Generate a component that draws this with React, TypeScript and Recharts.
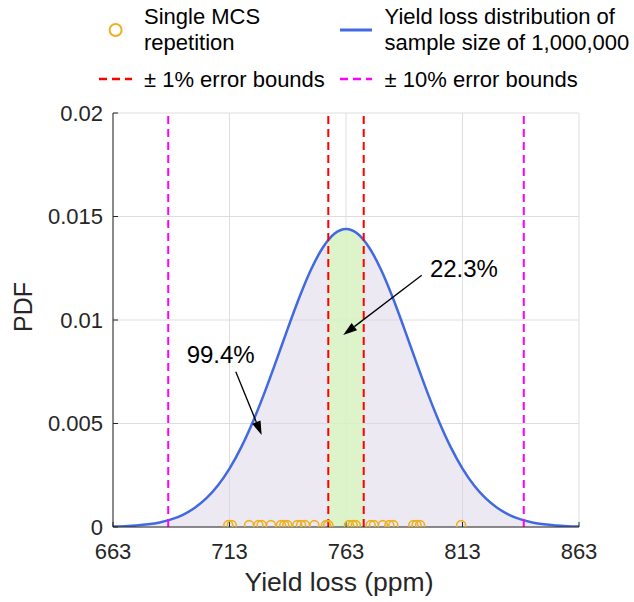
import React from 'react';
import {
  ComposedChart,
  Area,
  Line,
  Scatter,
  XAxis,
  YAxis,
  CartesianGrid,
  ReferenceLine,
  ReferenceDot,
} from 'recharts';

// Yield loss grid (ppm) and the PDF of the 1,000,000-sample distribution
const yieldLoss = [
  663, 668, 673, 678, 683, 688, 693, 698, 703, 708, 713, 718, 723, 728, 733,
  738, 743, 748, 753, 755.4, 758, 763, 768, 770.6, 773, 778, 783, 788, 793,
  798, 803, 808, 813, 818, 823, 828, 833, 838, 843, 848, 853, 858, 863,
];
const pdfValues = [
  0.0000213, 0.0000402, 0.0000735, 0.00013, 0.000222, 0.000369, 0.000591,
  0.000918, 0.001379, 0.002006, 0.002824, 0.003849, 0.005077, 0.006482,
  0.008011, 0.009583, 0.011096, 0.012436, 0.013492, 0.013868, 0.014167,
  0.0144, 0.014167, 0.013868, 0.013492, 0.012436, 0.011096, 0.009583,
  0.008011, 0.006482, 0.005077, 0.003849, 0.002824, 0.002006, 0.001379,
  0.000918, 0.000591, 0.000369, 0.000222, 0.00013, 0.0000735, 0.0000402,
  0.0000213,
];

// Yield loss of each single Monte Carlo repetition (ppm)
const mcsRepetitions = [
  712.5, 714.0, 721.4, 725.4, 726.8, 730.8, 735.1, 736.5, 737.8, 742.1, 743.7,
  745.4, 749.4, 754.4, 755.4, 764.3, 765.9, 767.2, 773.6, 775.0, 778.8, 781.6,
  783.3, 791.9, 793.3, 794.8, 812.4,
];
const mcsMarkerLevel = 0.00009;

const onePctBounds = [755.4, 770.6];
const tenPctBounds = [686.7, 839.3];

const xTicks = [663, 713, 763, 813, 863];
const yTicks = [0, 0.005, 0.01, 0.015, 0.02];

// Annotation text anchors and arrow segments (yield loss, PDF)
const bandShareLabel = '22.3%';
const bandShareText = [799.0, 0.01208];
const bandShareArrow = [795.5, 0.01216, 761.8, 0.00927];
const tenPctShareLabel = '99.4%';
const tenPctShareText = [694.6, 0.0079];
const tenPctShareArrow = [715.7, 0.0075, 726.8, 0.00444];

const FONT = '"Liberation Sans", Arial, Helvetica, sans-serif';
const AXIS_COLOR = '#262626';
const BLUE = '#4169E1';
const ORANGE = '#EDB120';
const RED = '#FF0000';
const MAGENTA = '#FF00FF';

const curveData = yieldLoss.map((x, i) => ({
  x,
  pdf: pdfValues[i],
  band: x >= onePctBounds[0] && x <= onePctBounds[1] ? pdfValues[i] : null,
}));
const mcsData = mcsRepetitions.map((x) => ({ x, y: mcsMarkerLevel }));

const ArrowShape = (props: any) => {
  const { x1, y1, x2, y2 } = props;
  const ang = Math.atan2(y2 - y1, x2 - x1);
  const len = 14;
  const half = 4.5;
  const bx = x2 - len * Math.cos(ang);
  const by = y2 - len * Math.sin(ang);
  const px = -Math.sin(ang) * half;
  const py = Math.cos(ang) * half;
  return (
    <g>
      <line x1={x1} y1={y1} x2={bx} y2={by} stroke="#000" strokeWidth={1.3} />
      <polygon
        points={`${x2},${y2} ${bx + px},${by + py} ${bx - px},${by - py}`}
        fill="#000"
      />
    </g>
  );
};

const makeTextShape = (label: string) => (props: any) => (
  <text
    x={props.cx}
    y={props.cy}
    fontFamily={FONT}
    fontSize={24}
    fill="#000"
    textAnchor="start"
  >
    {label}
  </text>
);

const McsMarker = (props: any) => (
  <circle
    cx={props.cx}
    cy={props.cy}
    r={4.5}
    fill="none"
    stroke={ORANGE}
    strokeWidth={1.6}
  />
);

const Legend = () => (
  <svg
    width={634}
    height={100}
    style={{ position: 'absolute', left: 0, top: 0 }}
    fontFamily={FONT}
    fontSize={22}
  >
    <circle cx={115.6} cy={30} r={6} fill="none" stroke={ORANGE} strokeWidth={2} />
    <text x={144} y={24} fill="#000">Single MCS</text>
    <text x={144} y={50} fill="#000">repetition</text>

    <line x1={340} y1={30} x2={372} y2={30} stroke={BLUE} strokeWidth={3} />
    <text x={384.6} y={24} fill="#000">Yield loss distribution of</text>
    <text x={384.6} y={50} fill="#000">sample size of 1,000,000</text>

    <line x1={99} y1={79} x2={132} y2={79} stroke={RED} strokeWidth={2.5} strokeDasharray="8 5" />
    <text x={144} y={87} fill="#000">± 1% error bounds</text>

    <line x1={340} y1={79} x2={372} y2={79} stroke={MAGENTA} strokeWidth={2.5} strokeDasharray="8 5" />
    <text x={384.6} y={87} fill="#000">± 10% error bounds</text>
  </svg>
);

export default function App() {
  const tickStyle = { fontFamily: FONT, fontSize: 22, fill: AXIS_COLOR };
  return (
    <div
      style={{
        position: 'absolute',
        left: 0,
        top: 0,
        width: 634,
        height: 602,
        background: '#fff',
      }}
    >
      <ComposedChart
        width={634}
        height={602}
        data={curveData}
        margin={{ top: 113, right: 55, bottom: 0, left: 0 }}
      >
        <CartesianGrid stroke="#dedede" strokeWidth={1} />
        <XAxis
          xAxisId={0}
          dataKey="x"
          type="number"
          domain={[663, 863]}
          ticks={xTicks}
          allowDataOverflow
          height={75}
          tickSize={-5}
          tickMargin={21}
          stroke={AXIS_COLOR}
          tick={tickStyle}
          label={{
            content: (p: any) => {
              const vb = p.viewBox;
              return (
                <text
                  x={vb.x + vb.width / 2 - 7}
                  y={vb.y + 64}
                  textAnchor="middle"
                  fontFamily={FONT}
                  fontSize={26.5}
                  fill={AXIS_COLOR}
                >
                  Yield loss (ppm)
                </text>
              );
            },
          }}
        />
        <XAxis
          xAxisId="top"
          orientation="top"
          dataKey="x"
          type="number"
          domain={[663, 863]}
          ticks={xTicks}
          allowDataOverflow
          height={0}
          tickSize={-5}
          tickFormatter={() => ''}
          stroke={AXIS_COLOR}
        />
        <YAxis
          yAxisId={0}
          type="number"
          domain={[0, 0.02]}
          ticks={yTicks}
          allowDataOverflow
          width={113}
          tickSize={-5}
          tickMargin={15}
          stroke={AXIS_COLOR}
          tick={tickStyle}
          tickFormatter={(v: number) => String(v)}
          label={{
            content: (p: any) => {
              const vb = p.viewBox;
              const cx = vb.x + 23;
              const cy = vb.y + vb.height / 2 - 13;
              return (
                <text
                  x={cx}
                  y={cy}
                  transform={`rotate(-90 ${cx} ${cy})`}
                  textAnchor="middle"
                  dominantBaseline="central"
                  fontFamily={FONT}
                  fontSize={25}
                  fill={AXIS_COLOR}
                >
                  PDF
                </text>
              );
            },
          }}
        />
        <YAxis
          yAxisId="right"
          orientation="right"
          type="number"
          domain={[0, 0.02]}
          ticks={yTicks}
          allowDataOverflow
          width={0}
          tickSize={-5}
          tickFormatter={() => ''}
          stroke={AXIS_COLOR}
        />

        <Area
          type="monotone"
          dataKey="pdf"
          stroke="none"
          fill="#dcd4e6"
          fillOpacity={0.5}
          isAnimationActive={false}
        />
        <Area
          type="monotone"
          dataKey="band"
          stroke="none"
          fill="#d4fbb6"
          fillOpacity={0.65}
          connectNulls={false}
          isAnimationActive={false}
        />
        <Line
          type="monotone"
          dataKey="pdf"
          stroke={BLUE}
          strokeWidth={2.5}
          dot={false}
          isAnimationActive={false}
        />
        <Scatter
          data={mcsData}
          dataKey="y"
          shape={McsMarker}
          isAnimationActive={false}
        />

        {tenPctBounds.map((b) => (
          <ReferenceLine
            key={`ten-${b}`}
            segment={[
              { x: b, y: 0 },
              { x: b, y: 0.02 },
            ]}
            stroke={MAGENTA}
            strokeWidth={2}
            strokeDasharray="8 5"
          />
        ))}
        {onePctBounds.map((b) => (
          <ReferenceLine
            key={`one-${b}`}
            segment={[
              { x: b, y: 0 },
              { x: b, y: 0.02 },
            ]}
            stroke={RED}
            strokeWidth={2}
            strokeDasharray="8 5"
          />
        ))}

        <ReferenceLine
          segment={[
            { x: bandShareArrow[0], y: bandShareArrow[1] },
            { x: bandShareArrow[2], y: bandShareArrow[3] },
          ]}
          shape={ArrowShape}
        />
        <ReferenceLine
          segment={[
            { x: tenPctShareArrow[0], y: tenPctShareArrow[1] },
            { x: tenPctShareArrow[2], y: tenPctShareArrow[3] },
          ]}
          shape={ArrowShape}
        />
        <ReferenceDot
          x={bandShareText[0]}
          y={bandShareText[1]}
          r={0}
          shape={makeTextShape(bandShareLabel)}
        />
        <ReferenceDot
          x={tenPctShareText[0]}
          y={tenPctShareText[1]}
          r={0}
          shape={makeTextShape(tenPctShareLabel)}
        />
      </ComposedChart>
      <Legend />
    </div>
  );
}
